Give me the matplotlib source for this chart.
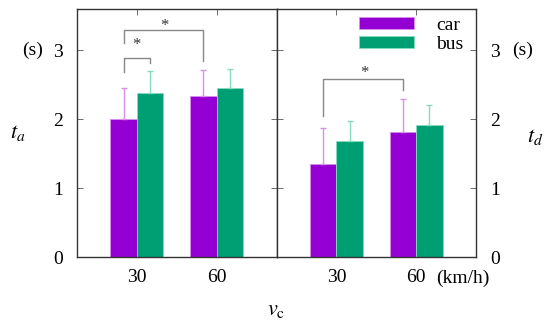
import matplotlib
matplotlib.use("Agg")
import matplotlib.pyplot as plt
import numpy as np

speeds = ["30", "60"]
series = ["car", "bus"]
ta_mean = {"car": [2.00, 2.34], "bus": [2.38, 2.45]}
ta_err = {"car": [0.46, 0.37], "bus": [0.32, 0.28]}
td_mean = {"car": [1.35, 1.82], "bus": [1.68, 1.92]}
td_err = {"car": [0.52, 0.47], "bus": [0.29, 0.29]}
colors = {"car": "#9400D3", "bus": "#009E73"}
light = {"car": "#d890ea", "bus": "#86dcc0"}

plt.rcParams['font.family'] = ['Liberation Serif', 'DejaVu Serif']
plt.rcParams['mathtext.fontset'] = 'stix'

fig = plt.figure(figsize=(5.5, 3.27), dpi=100)
L, R, B, T = 77/550, 476/550, 1-257/327, 1-9/327
W = (R - L) / 2
ax1 = fig.add_axes([L, B, W, T - B])
ax2 = fig.add_axes([L + W, B, W, T - B])

x = np.arange(len(speeds))
bw = 1/3
offs = {"car": -bw/2, "bus": bw/2}

for ax, mean, err in [(ax1, ta_mean, ta_err), (ax2, td_mean, td_err)]:
    for s in series:
        ax.bar(x + offs[s], mean[s], width=bw, color=colors[s], edgecolor=light[s],
               linewidth=0.6, label=s, zorder=2)
        ax.errorbar(x + offs[s], mean[s], yerr=[np.zeros(len(x)), err[s]], fmt='none',
                    ecolor=light[s], elinewidth=1.0, capsize=2.5, capthick=1.0, zorder=3)
    ax.set_xlim(-0.75, 1.75)
    ax.set_ylim(0, 3.6)
    ax.set_yticks([0, 1, 2, 3])
    ax.set_xticks(x)
    ax.tick_params(axis='both', direction='in', length=4, width=0.6, color='#555555',
                   labelsize=14, top=True, right=True, left=True, bottom=True)
    ax.tick_params(axis='x', pad=9)
    for sp in ax.spines.values():
        sp.set_linewidth(1.0)
        sp.set_color('#333333')

ax1.set_xticklabels(speeds)
ax2.set_xticklabels(speeds)
ax1.tick_params(axis='y', labelleft=True, labelright=False, pad=10)
ax2.tick_params(axis='y', labelleft=False, labelright=True, pad=10)

def bracket(ax, x0, x1, y, y0, y1, sx, sy):
    ax.plot([x0, x0, x1, x1], [y0, y, y, y1], color='#888888', lw=1.0, zorder=4, clip_on=False)
    ax.text(sx, sy, "*", ha='center', va='center', fontsize=12, color='#333333')

c30, b30, c60 = 0 + offs["car"], 0 + offs["bus"], 1 + offs["car"]
bracket(ax1, c30, b30, 2.89, 2.69, 2.81, 0.0, 3.08)
bracket(ax1, c30, c60, 3.29, 3.1, 2.84, 0.35, 3.36)
bracket(ax2, c30, c60, 2.59, 2.04, 2.43, 0.35, 2.67)

ax2.legend(loc='upper right', frameon=False, fontsize=14, handlelength=2.8,
           handleheight=0.55, labelspacing=0.12, handletextpad=1.15,
           bbox_to_anchor=(1.0, 1.02), borderaxespad=0.25)

fig.text(33/550, 1-50/327, "(s)", ha='center', va='center', fontsize=14)
fig.text(523/550, 1-50/327, "(s)", ha='center', va='center', fontsize=14)
fig.text(18/550, 1-133/327, r"$t_a$", ha='center', va='center', fontsize=16)
fig.text(535/550, 1-137/327, r"$t_d$", ha='center', va='center', fontsize=16)
fig.text(276/550, 1-310/327, r"$v_{\rm c}$", ha='center', va='center', fontsize=16)
fig.text(463/550, 1-278/327, "(km/h)", ha='center', va='center', fontsize=14)

fig.savefig("out.png", dpi=100)
